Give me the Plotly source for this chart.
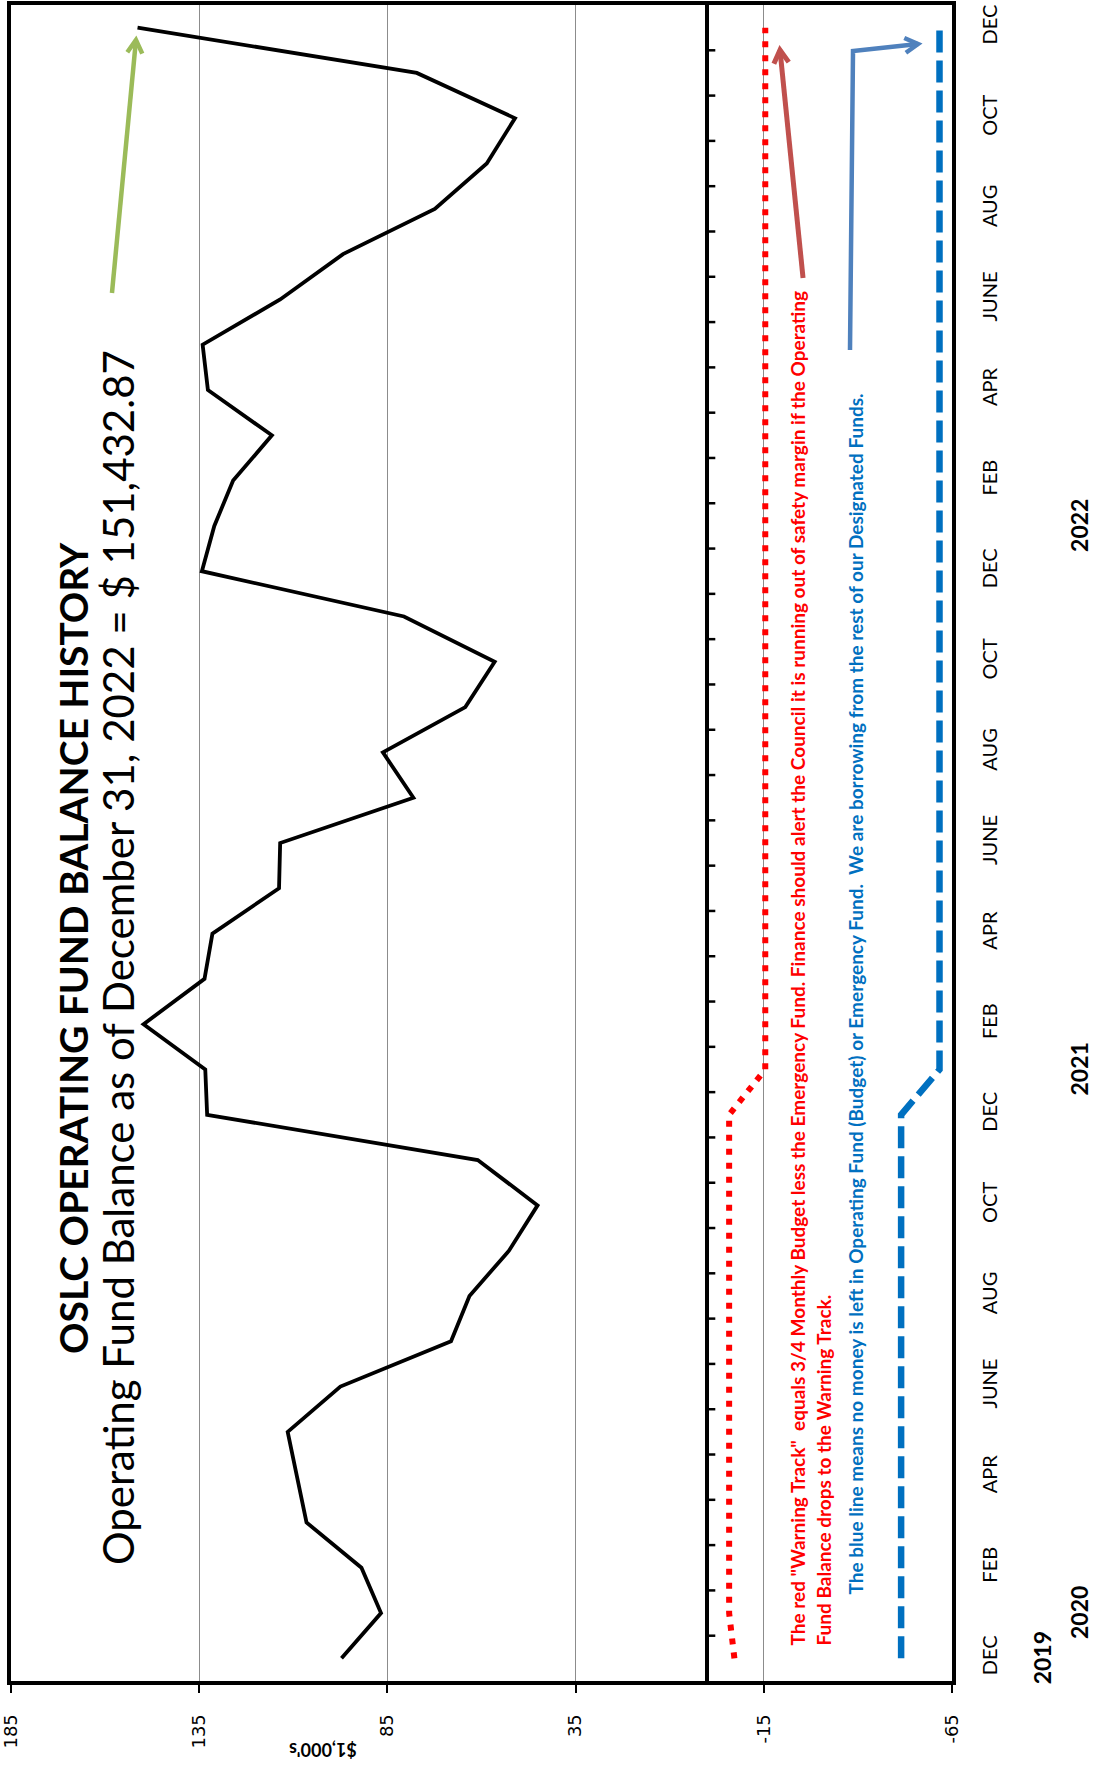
import math
import plotly.graph_objects as go

# ---------------- data ----------------
periods = ["2019-12",
           "2020-01", "2020-02", "2020-03", "2020-04", "2020-05", "2020-06",
           "2020-07", "2020-08", "2020-09", "2020-10", "2020-11", "2020-12",
           "2021-01", "2021-02", "2021-03", "2021-04", "2021-05", "2021-06",
           "2021-07", "2021-08", "2021-09", "2021-10", "2021-11", "2021-12",
           "2022-01", "2022-02", "2022-03", "2022-04", "2022-05", "2022-06",
           "2022-07", "2022-08", "2022-09", "2022-10", "2022-11", "2022-12"]

balance = [97.2,
           86.7, 91.9, 106.5, 109.0, 111.5, 97.5, 68.1, 63.2, 52.7, 45.1, 61.0, 132.9,
           133.4, 149.8, 133.6, 131.5, 113.8, 113.5, 78.1, 86.2, 64.3, 56.5, 80.6, 134.3,
           131.0, 126.0, 115.7, 132.7, 134.1, 113.5, 96.8, 72.4, 58.6, 51.1, 77.2, 151.4]

warning_track = [-7.2,
                 -5.8, -5.8, -5.8, -5.8, -5.8, -5.8, -5.8, -5.8, -5.8, -5.8, -5.8, -5.8,
                 -15.4, -15.4, -15.4, -15.4, -15.4, -15.4, -15.4, -15.4, -15.4, -15.4, -15.4, -15.4,
                 -15.4, -15.4, -15.4, -15.4, -15.4, -15.4, -15.4, -15.4, -15.4, -15.4, -15.4, -15.4]

no_money_line = [-51.5,
                 -51.5, -51.5, -51.5, -51.5, -51.5, -51.5, -51.5, -51.5, -51.5, -51.5, -51.5, -51.5,
                 -61.7, -61.7, -61.7, -61.7, -61.7, -61.7, -61.7, -61.7, -61.7, -61.7, -61.7, -61.7,
                 -61.7, -61.7, -61.7, -61.7, -61.7, -61.7, -61.7, -61.7, -61.7, -61.7, -61.7, -61.7]

month_tick_periods = periods[::2]
month_tick_labels = ["DEC", "FEB", "APR", "JUNE", "AUG", "OCT",
                     "DEC", "FEB", "APR", "JUNE", "AUG", "OCT",
                     "DEC", "FEB", "APR", "JUNE", "AUG", "OCT", "DEC"]

value_ticks = [185, 135, 85, 35, -15, -65]

year_labels = ["2019", "2020", "2021", "2022"]
year_periods = ["2019-12", "2020-01", "2021-01", "2022-01"]

# ---------------- layout geometry ----------------
W, H = 1094, 1775
L, R, T, B = 11, 952, 5, 1681


def px(x):
    return (x - L) / (R - L)


def py(y):
    return (B - y) / (B - T)


fig = go.Figure()

fig.add_trace(go.Scatter(x=balance, y=periods, mode="lines",
                         line=dict(color="black", width=3.8), showlegend=False))
fig.add_trace(go.Scatter(x=warning_track, y=periods, mode="lines",
                         line=dict(color="#FF0000", width=6, dash="6px,8px"), showlegend=False))
fig.add_trace(go.Scatter(x=no_money_line, y=periods, mode="lines",
                         line=dict(color="#0070C0", width=6.5, dash="22px,8px"), showlegend=False))

fig.update_xaxes(range=[185.02, -65.02], tickmode="array", tickvals=value_ticks,
                 ticktext=[str(v) for v in value_ticks],
                 tickangle=-90, ticks="outside", ticklen=8, tickwidth=2, tickcolor="black",
                 showgrid=True, gridcolor="#8C8C8C", gridwidth=1.3,
                 zeroline=True, zerolinecolor="black", zerolinewidth=3.5,
                 showline=True, linecolor="black", linewidth=4, mirror=True,
                 tickfont=dict(family="DejaVu Sans", size=18, color="black"),
                 ticklabeloverflow="allow",
                 ticklabelstandoff=14, fixedrange=True)

fig.update_yaxes(type="category", categoryorder="array", categoryarray=periods,
                 range=[-0.5, len(periods) - 0.5], side="right",
                 tickmode="array", tickvals=month_tick_periods, ticktext=month_tick_labels,
                 tickangle=-90, ticks="", showgrid=False, zeroline=False,
                 showline=True, linecolor="black", linewidth=4, mirror=True,
                 tickfont=dict(family="Lato", size=20, color="black"),
                 ticklabeloverflow="allow",
                 ticklabelstandoff=17, fixedrange=True)

shapes = []
# tick marks on the category axis crossing at zero
for i in range(len(periods) - 1):
    shapes.append(dict(type="line", xref="x", yref="y", xsizemode="pixel", xanchor=0,
                       x0=0, x1=8, y0=i + 0.5, y1=i + 0.5,
                       line=dict(color="black", width=2.5)))


def chevron(x0, y0, x1, y1, color, width, size=15):
    ang = math.atan2(y1 - y0, x1 - x0)
    pts = []
    for d in (math.radians(150), -math.radians(150)):
        pts.append((x1 + size * math.cos(ang + d), y1 + size * math.sin(ang + d)))
    path = "M {:.4f},{:.4f} L {:.4f},{:.4f} L {:.4f},{:.4f}".format(
        px(pts[0][0]), py(pts[0][1]), px(x1), py(y1), px(pts[1][0]), py(pts[1][1]))
    return dict(type="path", xref="paper", yref="paper", path=path,
                line=dict(color=color, width=width))


def polyline(points, color, width):
    path = "M " + " L ".join("{:.4f},{:.4f}".format(px(x), py(y)) for x, y in points)
    return dict(type="path", xref="paper", yref="paper", path=path,
                line=dict(color=color, width=width))


# green arrow
shapes.append(polyline([(112, 293), (136, 40)], "#9BBB59", 4.5))
shapes.append(chevron(112, 293, 136, 40, "#9BBB59", 4.5))
# red arrow
shapes.append(polyline([(803, 278), (780, 50)], "#C0504D", 5))
shapes.append(chevron(803, 278, 780, 50, "#C0504D", 5))
# blue elbow arrow
shapes.append(polyline([(850, 350), (853, 51), (918, 44)], "#4F81BD", 4.5))
shapes.append(chevron(853, 51, 918, 44, "#4F81BD", 4.5))

annotations = [
    dict(text="<b>OSLC OPERATING FUND BALANCE HISTORY</b>", x=px(73), y=py(948),
         xref="paper", yref="paper", textangle=-90, showarrow=False,
         xanchor="center", yanchor="middle",
         font=dict(family="Lato", size=39, color="black")),
    dict(text="Operating Fund Balance as of December 31, 2022 = $ 151,432.87", x=px(118), y=py(958),
         xref="paper", yref="paper", textangle=-90, showarrow=False,
         xanchor="center", yanchor="middle",
         font=dict(family="Lato", size=42, color="black")),
    dict(text="<b>The red \"Warning Track\"  equals 3/4 Monthly Budget less the Emergency Fund. "
              "Finance should alert the Council it is running out of safety margin if the Operating</b>",
         x=px(797), y=py(1648), xref="paper", yref="paper", textangle=-90, showarrow=False,
         xanchor="center", yanchor="bottom",
         font=dict(family="Lato", size=19, color="#FF0000")),
    dict(text="<b>Fund Balance drops to the Warning Track.</b>",
         x=px(823), y=py(1648), xref="paper", yref="paper", textangle=-90, showarrow=False,
         xanchor="center", yanchor="bottom",
         font=dict(family="Lato", size=19, color="#FF0000")),
    dict(text="<b>The blue line means no money is left in Operating Fund (Budget) or Emergency Fund.  "
              "We are borrowing from the rest of our Designated Funds.</b>",
         x=px(855), y=py(1597), xref="paper", yref="paper", textangle=-90, showarrow=False,
         xanchor="center", yanchor="bottom",
         font=dict(family="Lato", size=19, color="#0070C0")),
    dict(text="<b>$1,000's</b>", x=px(323), y=py(1750), xref="paper", yref="paper",
         textangle=180, showarrow=False, xanchor="center", yanchor="middle",
         font=dict(family="Lato", size=18, color="black")),
]

year_x = [1042, 1079, 1079, 1079]
for label, per, xx in zip(year_labels, year_periods, year_x):
    annotations.append(dict(text="<b>" + label + "</b>", x=px(xx), y=per, xref="paper", yref="y",
                            textangle=-90, showarrow=False, xanchor="center", yanchor="middle",
                            font=dict(family="Lato", size=23, color="black")))

fig.update_layout(width=W, height=H,
                  margin=dict(l=L, r=W - R, t=T, b=H - B, autoexpand=False),
                  paper_bgcolor="white", plot_bgcolor="white",
                  shapes=shapes, annotations=annotations, showlegend=False)

fig.write_html("out.html", config={"displayModeBar": False},
               post_script="document.body.style.margin='0';document.body.style.overflow='hidden';")
